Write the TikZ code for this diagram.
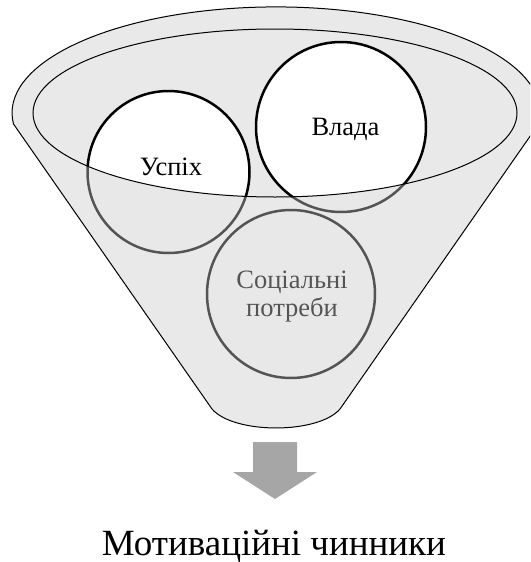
\documentclass[tikz,border=0pt]{standalone}
\usepackage{fontspec}
\setmainfont{Liberation Serif}
\definecolor{funnelfill}{RGB}{233,233,233}
\definecolor{veil}{RGB}{202,202,202}
\definecolor{arrowgray}{RGB}{166,166,166}
\tikzset{
  circ/.style={circle, draw=black, line width=2.5pt, fill=white, inner sep=0pt},
  lbl/.style={font=\fontsize{26.5}{29}\selectfont, inner sep=0pt, anchor=base},
  rim/.style={draw=black, line width=1pt},
}
\begin{document}
\begin{tikzpicture}[x=1pt,y=1pt]
\useasboundingbox (0,0) rectangle (530,-562);
\clip (0,0) rectangle (530,-562);
% inner opening of the funnel
\fill[funnelfill] (275,-113) ellipse [x radius=242pt, y radius=84pt];
% circles
\node[circ, minimum size=162pt] (uspih) at (168.5,-172) {};
\node[circ, minimum size=170pt] (vlada) at (341,-127) {};
\node[circ, minimum size=168pt] (social) at (291,-294) {};
\node[lbl] (tuspih) at (171,-175) {Успіх};
\node[lbl] (tvlada) at (345.5,-135) {Влада};
\node[lbl] (tsoc1) at (292,-288) {Соціальні};
\node[lbl] (tsoc2) at (292,-316) {потреби};
% funnel body (translucent, with the opening cut out)
\fill[veil, fill opacity=0.42, even odd rule]
  (13.5,-124) arc[start angle=186, end angle=-6, x radius=264pt, y radius=106pt]
  -- (340,-409) .. controls (318,-434.3) and (234,-434.3) .. (212,-409) -- cycle
  (275,-113) ellipse [x radius=242pt, y radius=84pt];
\draw[rim, line join=round]
  (13.5,-124) arc[start angle=186, end angle=-6, x radius=264pt, y radius=106pt]
  -- (340,-409) .. controls (318,-434.3) and (234,-434.3) .. (212,-409) -- cycle;
\draw[rim] (275,-113) ellipse [x radius=242pt, y radius=84pt];
% block arrow
\fill[arrowgray] (253,-442) -- (297,-442) -- (297,-472) -- (317,-472) -- (275,-499)
  -- (233,-472) -- (253,-472) -- cycle;
\node[font=\fontsize{37}{42}\selectfont, inner sep=0pt, anchor=base] (title) at (274,-555.5) {Мотиваційні чинники};
\end{tikzpicture}
\end{document}
